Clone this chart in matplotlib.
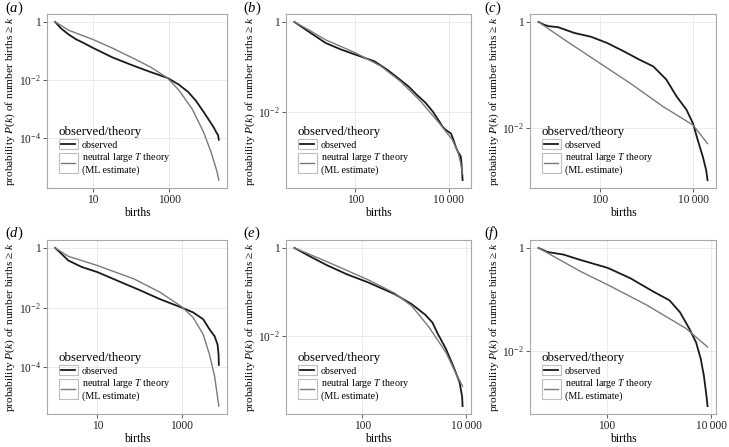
import numpy as np
import matplotlib
matplotlib.use("Agg")
import matplotlib.pyplot as plt
from matplotlib.legend_handler import HandlerBase
from matplotlib.lines import Line2D
from matplotlib.patches import Rectangle

plt.rcParams['font.family'] = ['Liberation Serif', 'DejaVu Serif']
plt.rcParams['mathtext.fontset'] = 'custom'
plt.rcParams['mathtext.rm'] = 'Liberation Serif'
plt.rcParams['mathtext.it'] = 'Liberation Serif:italic'

# values, as log10(births) and log10(P(k))
a_obs_x = [0, 0.15, 0.36, 0.55, 0.74, 1.0, 1.5, 2.0, 2.45, 2.95, 3.25, 3.5, 3.7, 3.9, 4.05, 4.16, 4.24, 4.28, 4.3]
a_obs_y = [0, -0.22, -0.44, -0.6, -0.72, -0.9, -1.22, -1.48, -1.7, -1.93, -2.16, -2.42, -2.72, -3.1, -3.4, -3.62, -3.82, -3.9, -4.06]
a_th_x = [0, 0.36, 1.0, 1.5, 2.0, 2.5, 2.95, 3.25, 3.6, 3.9, 4.1, 4.25, 4.3]
a_th_y = [0, -0.29, -0.61, -0.9, -1.22, -1.55, -1.93, -2.35, -3.0, -3.8, -4.5, -5.15, -5.45]

b_obs_x = [0.69, 1.0, 1.36, 1.7, 2.0, 2.41, 2.7, 2.97, 3.15, 3.31, 3.5, 3.66, 3.8, 3.87, 3.95, 4.05, 4.1, 4.15, 4.2, 4.26, 4.28, 4.3]
b_obs_y = [0, -0.22, -0.47, -0.62, -0.73, -0.88, -1.08, -1.3, -1.45, -1.62, -1.8, -2.0, -2.22, -2.34, -2.42, -2.49, -2.62, -2.78, -2.9, -3.0, -3.2, -3.53]
b_th_x = [0.69, 1.0, 1.36, 2.0, 2.55, 2.97, 3.38, 3.8, 4.08, 4.2, 4.26, 4.3]
b_th_y = [0, -0.18, -0.4, -0.69, -0.99, -1.33, -1.75, -2.26, -2.63, -2.9, -3.16, -3.4]

c_obs_x = [0.69, 0.8, 0.9, 1.11, 1.46, 1.81, 2.16, 2.52, 2.86, 3.14, 3.42, 3.64, 3.85, 3.99, 4.09, 4.2, 4.27, 4.3]
c_obs_y = [0, -0.05, -0.08, -0.1, -0.21, -0.28, -0.4, -0.56, -0.72, -0.84, -1.09, -1.41, -1.66, -1.92, -2.23, -2.55, -2.8, -2.99]
c_th_x = [0.69, 1.25, 2.0, 2.65, 3.35, 3.99, 4.3]
c_th_y = [0, -0.34, -0.78, -1.16, -1.6, -1.95, -2.3]

d_obs_x = [0, 0.15, 0.31, 0.63, 1.0, 1.48, 2.03, 2.49, 3.0, 3.27, 3.51, 3.66, 3.78, 3.85, 3.875, 3.88]
d_obs_y = [0, -0.2, -0.42, -0.64, -0.81, -1.1, -1.43, -1.72, -2.0, -2.16, -2.39, -2.73, -2.96, -3.24, -3.58, -3.92]
d_th_x = [0, 0.31, 1.0, 1.87, 2.49, 3.0, 3.27, 3.51, 3.66, 3.78, 3.88]
d_th_y = [0, -0.28, -0.59, -1.04, -1.49, -1.97, -2.33, -2.9, -3.58, -4.3, -5.3]

e_obs_x = [0.69, 1.0, 1.31, 1.7, 2.1, 2.62, 2.95, 3.21, 3.35, 3.45, 3.61, 3.76, 3.87, 3.92, 3.93]
e_obs_y = [0, -0.2, -0.39, -0.6, -0.78, -1.05, -1.28, -1.52, -1.7, -1.95, -2.3, -2.72, -3.05, -3.38, -3.6]
e_th_x = [0.69, 1.31, 2.1, 2.62, 2.95, 3.28, 3.61, 3.81, 3.93]
e_th_y = [0, -0.31, -0.72, -1.03, -1.32, -1.8, -2.38, -2.88, -3.15]

f_obs_x = [0.69, 0.86, 1.17, 1.48, 2.02, 2.45, 2.89, 3.2, 3.4, 3.58, 3.71, 3.8, 3.86, 3.91, 3.93]
f_obs_y = [0, -0.08, -0.13, -0.23, -0.39, -0.59, -0.85, -1.02, -1.25, -1.57, -1.84, -2.16, -2.49, -2.89, -3.08]
f_th_x = [0.69, 1.5, 2.02, 2.76, 3.52, 3.93]
f_th_y = [0, -0.46, -0.72, -1.11, -1.57, -1.93]

panel_names = ["a", "b", "c", "d", "e", "f"]
xticks_small = [10, 1000]
xticklabels_small = ["10", "1000"]
xticks_big = [100, 10000]
xticklabels_big = ["100", "10\u2009000"]
yticks_deep = [1, 1e-2, 1e-4]
yticklabels_deep = ["1", "10$^{-2}$", "10$^{-4}$"]
yticks_short = [1, 1e-2]
yticklabels_short = ["1", "10$^{-2}$"]

legend_title = "observed/theory"
obs_label = "observed"
th_label = "neutral large $T$ theory\n(ML estimate)"
ylabel = "probability $P$($k$) of number births \u2265 $k$"


class BoxedKey(HandlerBase):
    # ggplot-ish legend key: grey bordered box with a line through the middle
    def __init__(self, nlines=1):
        super().__init__()
        self.nlines = nlines

    def create_artists(self, legend, orig_handle, xdescent, ydescent,
                       width, height, fontsize, trans):
        h = height * self.nlines
        yc = -ydescent + height / 2
        box = Rectangle((-xdescent, yc - h / 2), width, h, fc='none',
                        ec='#bdbdbd', lw=0.8, transform=trans)
        ln = Line2D([-xdescent + 0.12 * width, -xdescent + 0.88 * width], [yc, yc],
                    color=orig_handle.get_color(), lw=orig_handle.get_linewidth(),
                    transform=trans)
        return [box, ln]


fig = plt.figure(figsize=(7.29, 4.47), dpi=100)
W, H = 729, 447
cols = [(47, 227), (286, 471), (530, 716)]
rows = [(14, 188), (240, 414)]
label_x = [5, 243, 484]
label_y = [8, 233]

data = {
    "a": (a_obs_x, a_obs_y, a_th_x, a_th_y),
    "b": (b_obs_x, b_obs_y, b_th_x, b_th_y),
    "c": (c_obs_x, c_obs_y, c_th_x, c_th_y),
    "d": (d_obs_x, d_obs_y, d_th_x, d_th_y),
    "e": (e_obs_x, e_obs_y, e_th_x, e_th_y),
    "f": (f_obs_x, f_obs_y, f_th_x, f_th_y),
}

for i, name in enumerate(panel_names):
    r, c = divmod(i, 3)
    x0, x1 = cols[c]
    y0, y1 = rows[r]
    ax = fig.add_axes([x0 / W, 1 - y1 / H, (x1 - x0) / W, (y1 - y0) / H])
    ox, oy, tx, ty = data[name]
    l_obs, = ax.plot(np.power(10.0, ox), np.power(10.0, oy), color='#1a1a1a', lw=1.3)
    l_th, = ax.plot(np.power(10.0, tx), np.power(10.0, ty), color='#7a7a7a', lw=1.0)
    ax.set_xscale('log')
    ax.set_yscale('log')
    if c == 0:
        ax.set_xticks(xticks_small, xticklabels_small)
        ax.set_yticks(yticks_deep, yticklabels_deep)
    else:
        ax.set_xticks(xticks_big, xticklabels_big)
        ax.set_yticks(yticks_short, yticklabels_short)
    ax.minorticks_off()
    ax.grid(True, color='#e8e8e8', lw=0.6)
    ax.set_axisbelow(True)
    for sp in ax.spines.values():
        sp.set_color('#a8a8a8')
        sp.set_linewidth(0.8)
    ax.tick_params(length=3, width=0.6, color='#444444', labelsize=8.3,
                   labelcolor='#222222', pad=1.5)
    ax.set_xlabel("births", fontsize=8.5, labelpad=0.5)
    ax.set_ylabel(ylabel, fontsize=8.2, labelpad=1)

    ax.legend([l_obs, l_th], [obs_label, th_label], title=legend_title,
              loc='lower left', bbox_to_anchor=(0.02, 0.03), frameon=False,
              fontsize=7.2, title_fontsize=9.3, alignment='left',
              handlelength=1.9, handleheight=1.15, handletextpad=0.4,
              labelspacing=0.1, borderpad=0.3,
              handler_map={l_obs: BoxedKey(1), l_th: BoxedKey(2)})

    fig.text(label_x[c] / W, 1 - label_y[r] / H, "($%s$)" % name, fontsize=10.5,
             ha='left', va='center')

fig.savefig("out.png", dpi=100)
